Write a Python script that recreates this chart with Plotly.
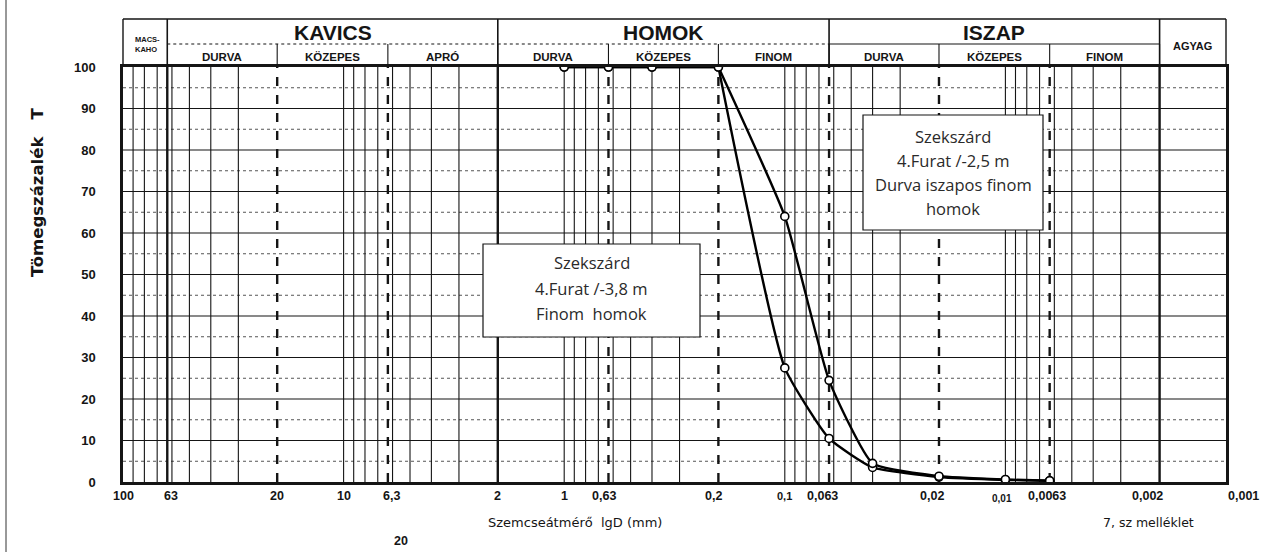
import math
import plotly.graph_objects as go

# ---------------- data ----------------
diameters = [1, 0.63, 0.4, 0.2, 0.1, 0.063, 0.04, 0.02, 0.01, 0.0063]
finom_homok_38 = [100, 100, 100, 100, 27.5, 10.5, 3.5, 1.2, 0.5, 0.3]
durva_iszapos_25 = [100, 100, 100, 100, 64, 24.5, 4.5, 1.4, 0.6, 0.3]

y_tick_vals = [0, 10, 20, 30, 40, 50, 60, 70, 80, 90, 100]
x_tick_vals = [100, 63, 20, 10, 6.3, 2, 1, 0.63, 0.2, 0.1, 0.063, 0.02, 0.01, 0.0063, 0.002, 0.001]
x_tick_text = ["100", "63", "20", "10", "6,3", "2", "1", "0,63", "0,2", "0,1", "0,063",
               "0,02", "0,01", "0,0063", "0,002", "0,001"]

main_groups = ["KAVICS", "HOMOK", "ISZAP"]
main_bounds = [(63, 2), (2, 0.063), (0.063, 0.002)]
sub_labels = ["DURVA", "KÖZEPES", "APRÓ", "DURVA", "KÖZEPES", "FINOM", "DURVA", "KÖZEPES", "FINOM"]
sub_bounds = [(63, 20), (20, 6.3), (6.3, 2), (2, 0.63), (0.63, 0.2), (0.2, 0.063),
              (0.063, 0.02), (0.02, 0.0063), (0.0063, 0.002)]

dashed_lines = [20, 6.3, 0.63, 0.2, 0.063, 0.02, 0.0063]
thick_lines = [63, 2, 0.002]
thin_lines = [k * 10 ** n for n in range(-3, 2) for k in range(1, 10)]
thin_lines = [v for v in thin_lines
              if 0.001 < v < 100 and not any(abs(v - d) < 1e-9 for d in dashed_lines + thick_lines)]
h_solid = [10, 20, 30, 40, 50, 60, 70, 80, 90]
h_dotted = [5, 15, 25, 35, 45, 55, 65, 75, 85, 95]

# ---------------- geometry helpers ----------------
W, H = 1262, 552
L, R, T, B = 123, 36, 67, 70
PW, PH = W - L - R, H - T - B


def xp(d):  # paper x of a diameter (reversed log axis 100 -> 0.001)
    return (2 - math.log10(d)) / 5


def yp_px(py):
    return (H - B - py) / PH


def xp_px(px):
    return (px - L) / PW


INK = "#151515"
fig = go.Figure()


def vlines(vals, dash, width, color=INK):
    xs, ys = [], []
    for v in vals:
        xs += [v, v, None]
        ys += [0, 100, None]
    fig.add_trace(go.Scatter(x=xs, y=ys, mode="lines", hoverinfo="skip", showlegend=False,
                             line=dict(color=color, width=width, dash=dash)))


def hlines(vals, dash, width, color=INK):
    xs, ys = [], []
    for v in vals:
        xs += [100, 0.001, None]
        ys += [v, v, None]
    fig.add_trace(go.Scatter(x=xs, y=ys, mode="lines", hoverinfo="skip", showlegend=False,
                             line=dict(color=color, width=width, dash=dash)))


hlines(h_dotted, "dot", 1, "#555")
hlines(h_solid, "solid", 1.1)
vlines(thin_lines, "solid", 1.1)
vlines(thick_lines, "solid", 2.4)
vlines(dashed_lines, "dash", 2.4)

# curves: flat part along 100 % and the falling part (smoothed)
for vals in [finom_homok_38, durva_iszapos_25]:
    fig.add_trace(go.Scatter(x=diameters[:4], y=vals[:4], mode="lines", showlegend=False, hoverinfo="skip",
                             line=dict(color="#000", width=2.4)))
    fig.add_trace(go.Scatter(x=diameters[3:], y=vals[3:], mode="lines", showlegend=False,
                             line=dict(color="#000", width=2.4, shape="spline", smoothing=0.45)))
for vals in [finom_homok_38, durva_iszapos_25]:
    fig.add_trace(go.Scatter(x=diameters, y=vals, mode="markers", showlegend=False,
                             marker=dict(symbol="circle", size=8, color="white",
                                         line=dict(color="#000", width=1.6))))

shapes = []
annotations = []


def label(text, x, y, size, family="Liberation Sans", xref="paper", color=INK, **kw):
    d = dict(text=text, xref=xref, yref="paper", x=x, y=y, showarrow=False,
             xanchor="center", yanchor="middle", font=dict(family=family, size=size, color=color))
    d.update(kw)
    annotations.append(d)


# header
y_top, y_mid = yp_px(19), yp_px(44)
shapes.append(dict(type="line", xref="paper", yref="paper", x0=0, x1=1, y0=y_top, y1=y_top,
                   line=dict(color=INK, width=1.6)))
for xx in (0, 1):
    shapes.append(dict(type="line", xref="paper", yref="paper", x0=xx, x1=xx, y0=1, y1=y_top,
                       line=dict(color=INK, width=1.4)))
for (a, b), name in zip(main_bounds, main_groups):
    dash = "solid" if name == "ISZAP" else "dot"
    shapes.append(dict(type="line", xref="paper", yref="paper", x0=xp(a), x1=xp(b), y0=y_mid, y1=y_mid,
                       line=dict(color=INK, width=1.2, dash=dash)))
    label(f"<b>{name}</b>", (xp(a) + xp(b)) / 2, yp_px(32), 21)
for v in [63, 2, 0.063, 0.002]:
    shapes.append(dict(type="line", xref="paper", yref="paper", x0=xp(v), x1=xp(v), y0=1, y1=y_top,
                       line=dict(color=INK, width=1.6)))
for (a, b), name in zip(sub_bounds, sub_labels):
    shapes.append(dict(type="line", xref="paper", yref="paper", x0=xp(b), x1=xp(b), y0=1, y1=y_mid,
                       line=dict(color=INK, width=1.1)))
    label(f"<b>{name}</b>", (xp(a) + xp(b)) / 2, yp_px(57), 11.5)
label("<b>MACS-<br>KAHO</b>", xp_px(133), yp_px(45), 7.5, xanchor="left", align="left")
label("<b>AGYAG</b>", (xp(0.002) + 1) / 2, yp_px(46), 11)

# x tick labels
x_shift = {"63": 4, "6,3": 4, "0,63": -4, "0,2": -5, "0,063": -7, "0,02": -7, "0,01": -3,
           "0,0063": -3, "0,002": -12, "0,001": 17}
x_size = {"0,01": 10, "0,1": 11}
for v, t in zip(x_tick_vals, x_tick_text):
    label(f"<b>{t}</b>", math.log10(v), yp_px(498 if t == "0,01" else 496), x_size.get(t, 12.5), xref="x",
          xshift=x_shift.get(t, 0))

label("Szemcseátmérő  lgD (mm)", xp_px(575), yp_px(522), 13, family="DejaVu Sans")
label("<b>20</b>", xp_px(401), yp_px(541), 12.5)
label("7, sz melléklet", xp_px(1148), yp_px(522), 12.5, family="DejaVu Sans")
label("<b>Tömegszázalék   T</b>", xp_px(37), yp_px(192), 16.5, family="DejaVu Sans", textangle=-90)

# text boxes
boxes = [
    (483, 700, 244, 337, ["Szekszárd", "4.Furat /-3,8 m", "Finom  homok"], [262, 288, 313]),
    (863, 1043, 115, 230, ["Szekszárd", "4.Furat /-2,5 m", "Durva iszapos finom", "homok"], [136, 160, 184, 208]),
]
for x0, x1, y0, y1, lines, rows in boxes:
    shapes.append(dict(type="rect", xref="paper", yref="paper", x0=xp_px(x0), x1=xp_px(x1),
                       y0=yp_px(y1), y1=yp_px(y0), fillcolor="white", line=dict(color=INK, width=1.2),
                       layer="above"))
    for txt, r in zip(lines, rows):
        label(txt, xp_px((x0 + x1) / 2), yp_px(r), 16.5, family="Open Sans", color="#2a2a2a")

# left scan border
shapes.append(dict(type="line", xref="paper", yref="paper", x0=xp_px(6), x1=xp_px(6), y0=yp_px(0),
                   y1=yp_px(552), line=dict(color="#333", width=1)))

fig.update_layout(
    width=W, height=H, margin=dict(l=L, r=R, t=T, b=B),
    paper_bgcolor="white", plot_bgcolor="white",
    shapes=shapes, annotations=annotations, showlegend=False,
    xaxis=dict(type="log", range=[2, -3], showgrid=False, zeroline=False, showticklabels=False,
               showline=True, mirror=True, linecolor=INK, linewidth=2.5, ticks=""),
    yaxis=dict(range=[0, 100], showgrid=False, zeroline=False, tickvals=y_tick_vals,
               ticktext=[f"<b>{v}</b>" for v in y_tick_vals], ticklabelstandoff=22,
               tickfont=dict(family="Liberation Sans", size=13, color=INK),
               showline=True, mirror=True, linecolor=INK, linewidth=2.5, ticks=""),
)

fig.write_html("out.html", config={"displayModeBar": False},
               post_script="document.body.style.margin='0';document.body.style.overflow='hidden';")
